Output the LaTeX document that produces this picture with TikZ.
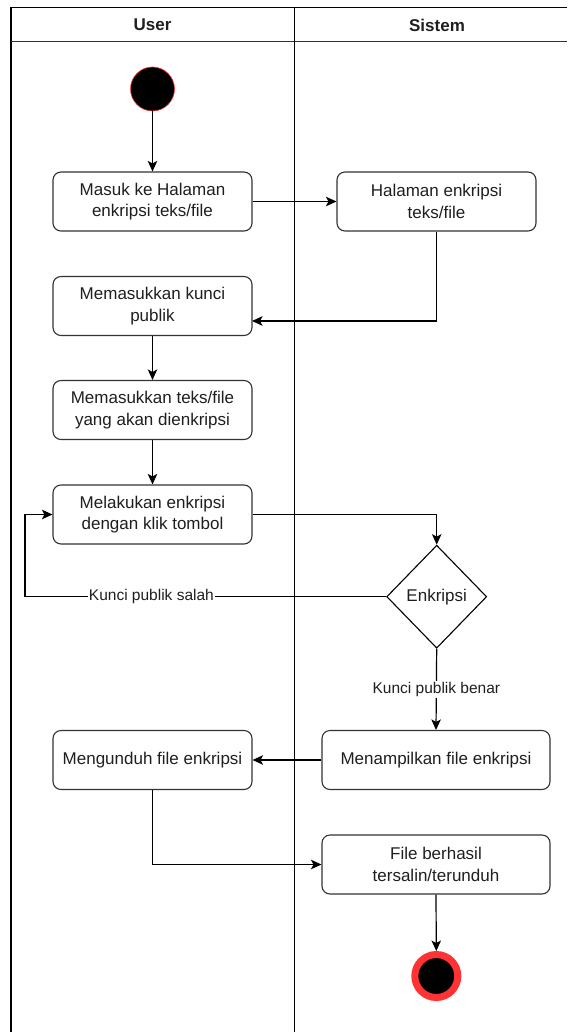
\documentclass[tikz,border=0pt]{standalone}
\usepackage{fontspec}
\setmainfont{Liberation Sans}
\usetikzlibrary{shapes.geometric,arrows.meta}

\definecolor{edge}{HTML}{333333}
\definecolor{ring}{HTML}{FF3333}

\tikzset{
  txt/.style={font=\fontsize{17}{21.5}\selectfont, text=black!88, align=center},
  act/.style={txt, draw=edge, line width=1.1pt, rounded corners=8pt, fill=white,
              minimum height=59pt, inner sep=0pt},
  actw/.style={act, minimum width=199pt},
  actwide/.style={act, minimum width=228pt},
  decision/.style={diamond, draw=black, line width=1.1pt, fill=white,
                   minimum width=100pt, minimum height=103pt, inner sep=0pt},
  startnode/.style={circle, fill=black, draw=ring, line width=0.6pt,
                    minimum size=44pt, inner sep=0pt},
  endnode/.style={circle, fill=black, draw=ring, line width=7pt,
                  minimum size=43pt, inner sep=0pt},
  flow/.style={draw=black, line width=1.2pt, -{Stealth[length=10.5pt,width=9.5pt,inset=2.5pt]}},
  lbl/.style={font=\fontsize{15.5}{18}\selectfont, text=black!88, fill=white, inner sep=1pt},
  lane/.style={draw=black, line width=1.6pt},
  head/.style={font=\fontsize{17}{20}\selectfont\bfseries, text=black!88}
}

\begin{document}
\begin{tikzpicture}[x=1pt, y=-1pt]
  \useasboundingbox (0,0) rectangle (567,1032);

  % swimlane frame
  \draw[lane] (11,1032) -- (11,7.5) -- (567,7.5);
  \draw[lane, draw=black!80] (11,41.5) -- (567,41.5);
  \draw[lane] (294.5,7.5) -- (294.5,1032);
  \node[head] (hUser) at (152.5,25) {User};
  \node[head] (hSistem) at (437,25) {Sistem};

  % activities
  \node[startnode] (start) at (152.5,89) {};
  \node[actw] (masuk) at (152.5,201.5) {Masuk ke Halaman\\enkripsi teks/file};
  \node[actw] (halaman) at (436.5,201.5) {Halaman enkripsi\\teks/file};
  \node[actw] (kunci) at (152.5,306) {Memasukkan kunci\\publik};
  \node[actw] (teks) at (152.5,410) {Memasukkan teks/file\\yang akan dienkripsi};
  \node[actw] (klik) at (152.5,514.5) {Melakukan enkripsi\\dengan klik tombol};
  \node[decision, label={[txt]center:Enkripsi}] (cek) at (436.7,596.7) {};
  \node[actwide] (tampil) at (436,760) {Menampilkan file enkripsi};
  \node[actw] (unduh) at (152.5,760) {Mengunduh file enkripsi};
  \node[actwide] (selesai) at (436,864.5) {File berhasil\\tersalin/terunduh};
  \node[endnode] (end) at (436.3,976) {};

  % bend points
  \coordinate (kunciIn) at (252,321);
  \coordinate (loopL) at (25,596.7);
  \coordinate (loopT) at (25,514.5);

  % control flow
  \draw[flow] (start) -- (masuk);
  \draw[flow] (masuk) -- (halaman);
  \draw[flow] (halaman.south) |- (kunciIn);
  \draw[flow] (kunci) -- (teks);
  \draw[flow] (teks) -- (klik);
  \draw[flow] (klik.east) -| (cek.north);
  \draw[flow] (cek.west) -- node[lbl, pos=0.65] {Kunci publik salah} (loopL) -- (loopT) -- (klik.west);
  \draw[flow] (cek.south) -- node[lbl, midway] {Kunci publik benar} (tampil.north);
  \draw[flow] (tampil) -- (unduh);
  \draw[flow] (unduh.south) |- (selesai.west);
  \draw[flow] (selesai.south) -- (end.north);
\end{tikzpicture}
\end{document}
